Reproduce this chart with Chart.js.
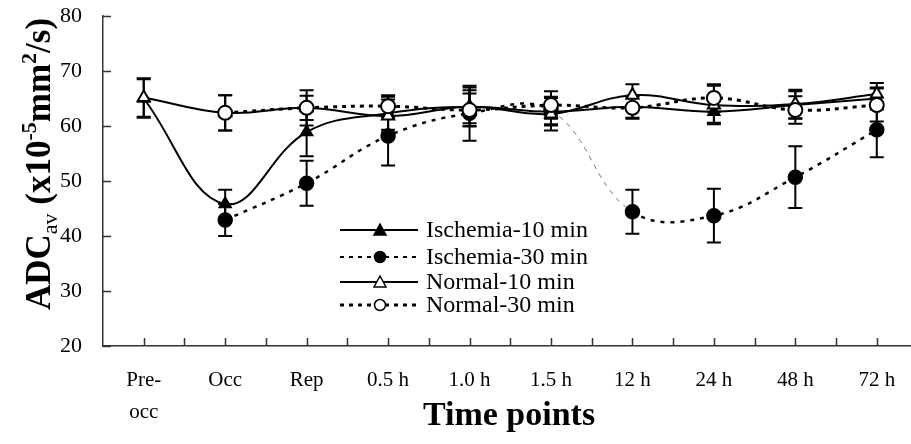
<!DOCTYPE html>
<html>
<head>
<meta charset="utf-8">
<script src="https://cdn.jsdelivr.net/npm/chart.js@4.4.0/dist/chart.umd.min.js"></script>
<style>
  html, body { margin: 0; padding: 0; background: #fff; }
</style>
</head>
<body>
<canvas id="chart" width="911" height="444"></canvas>
<script>
// time points along the x axis
const timePoints = [['Pre-', 'occ'], 'Occ', 'Rep', '0.5 h', '1.0 h', '1.5 h', '12 h', '24 h', '48 h', '72 h'];
const yTicks = [20, 30, 40, 50, 60, 70, 80];

// mean ADC values, with the +/- error
const isch10 = [65.0, 45.8, 58.9, 62.3, 63.5, 62.6, 63.5, 62.6, 63.8, 65.0];
const isch10Err = [3.5, 2.6, 4.4, 3.0, 3.5, 2.5, 2.0, 2.0, 2.5, 2.0];
const isch30 = [null, 42.9, 49.6, 58.2, 62.3, 62.8, 44.4, 43.7, 50.7, 59.3];
const isch30Err = [null, 2.9, 4.1, 5.4, 5.0, 2.5, 4.0, 4.9, 5.6, 5.0];
const norm10 = [65.2, 62.4, 63.3, 61.8, 63.5, 62.2, 65.6, 63.8, 64.0, 65.8];
const norm10Err = [3.5, 3.2, 3.2, 3.0, 3.0, 3.0, 2.0, 3.5, 2.6, 2.0];
const norm30 = [null, 62.4, 63.3, 63.6, 62.9, 63.8, 63.3, 65.1, 62.9, 63.8];
const norm30Err = [null, 3.2, 2.2, 2.0, 3.0, 2.5, 2.0, 2.5, 2.5, 3.0];

const serif = "'Liberation Serif', 'Times New Roman', serif";

function toPoints(arr) {
    return arr.map((v, i) => ({ x: i, y: v }));
}

const errorsByDataset = [isch10Err, isch30Err, norm10Err, norm30Err];

// error bars, drawn under the markers
const errorBars = {
    id: 'errorBars',
    beforeDatasetsDraw(chart) {
        const ctx = chart.ctx;
        const xs = chart.scales.x, ys = chart.scales.y;
        ctx.save();
        ctx.strokeStyle = '#000';
        ctx.lineWidth = 2;
        chart.data.datasets.forEach((ds, d) => {
            const errs = errorsByDataset[d];
            ds.data.forEach((p, i) => {
                if (p.y == null || errs[i] == null) return;
                const px = xs.getPixelForValue(p.x);
                const top = ys.getPixelForValue(p.y + errs[i]);
                const bot = ys.getPixelForValue(p.y - errs[i]);
                ctx.beginPath();
                ctx.moveTo(px, top); ctx.lineTo(px, bot);
                ctx.moveTo(px - 7, top); ctx.lineTo(px + 7, top);
                ctx.moveTo(px - 7, bot); ctx.lineTo(px + 7, bot);
                ctx.stroke();
            });
        });
        ctx.restore();
    }
};

// tick marks pointing into the plot, like the original
const innerTicks = {
    id: 'innerTicks',
    beforeDatasetsDraw(chart) {
        const ctx = chart.ctx;
        const xs = chart.scales.x, ys = chart.scales.y;
        const area = chart.chartArea;
        ctx.save();
        ctx.strokeStyle = '#333';
        ctx.lineWidth = 1.5;
        ctx.beginPath();
        for (let v = 0; v <= timePoints.length - 1; v += 0.5) {
            const px = Math.round(xs.getPixelForValue(v)) + 0.5;
            ctx.moveTo(px, area.bottom);
            ctx.lineTo(px, area.bottom - 8);
        }
        yTicks.forEach(t => {
            const py = Math.round(ys.getPixelForValue(t)) + 0.5;
            ctx.moveTo(area.left, py);
            ctx.lineTo(area.left + 8, py);
        });
        ctx.stroke();
        ctx.restore();
    }
};

// axis titles (y title has a subscript and superscripts)
const axisTitles = {
    id: 'axisTitles',
    afterDraw(chart) {
        const ctx = chart.ctx;
        ctx.save();
        ctx.fillStyle = '#000';
        ctx.textBaseline = 'alphabetic';

        ctx.font = 'bold 34px ' + serif;
        ctx.textAlign = 'center';
        ctx.fillText('Time points', 509, 425);

        const parts = [
            { t: 'ADC', f: 'bold 35px ' + serif, dy: 0 },
            { t: 'av', f: '22px ' + serif, dy: 7 },
            { t: ' (x10', f: 'bold 35px ' + serif, dy: 0 },
            { t: '-5', f: 'bold 22px ' + serif, dy: -14 },
            { t: 'mm', f: 'bold 35px ' + serif, dy: 0 },
            { t: '2', f: 'bold 22px ' + serif, dy: -14 },
            { t: '/s)', f: 'bold 35px ' + serif, dy: 0 }
        ];
        let total = 0;
        parts.forEach(p => { ctx.font = p.f; p.w = ctx.measureText(p.t).width; total += p.w; });
        ctx.translate(50, 164);
        ctx.rotate(-Math.PI / 2);
        ctx.textAlign = 'left';
        let cx = -total / 2;
        parts.forEach(p => {
            ctx.font = p.f;
            ctx.fillText(p.t, cx, p.dy);
            cx += p.w;
        });
        ctx.restore();
    }
};

// legend box inside the plot
const legendItems = [
    { label: 'Ischemia-10 min', dash: [], width: 2, shape: 'triangle', fill: '#000' },
    { label: 'Ischemia-30 min', dash: [4, 5], width: 2, shape: 'circle', fill: '#000' },
    { label: 'Normal-10 min', dash: [], width: 2, shape: 'triangle', fill: '#fff' },
    { label: 'Normal-30 min', dash: [4, 5], width: 3, shape: 'circle', fill: '#fff' }
];

const insideLegend = {
    id: 'insideLegend',
    afterDraw(chart) {
        const ctx = chart.ctx;
        const rows = [230, 257, 282, 305];
        ctx.save();
        legendItems.forEach((it, k) => {
            const y = rows[k];
            ctx.strokeStyle = '#000';
            ctx.lineWidth = it.width;
            ctx.setLineDash(it.dash);
            ctx.beginPath();
            ctx.moveTo(340, y);
            ctx.lineTo(418, y);
            ctx.stroke();
            ctx.setLineDash([]);
            ctx.lineWidth = 1.5;
            ctx.fillStyle = it.fill;
            ctx.beginPath();
            if (it.shape === 'circle') {
                ctx.arc(380, y, 5.5, 0, Math.PI * 2);
            } else {
                ctx.moveTo(380, y - 6);
                ctx.lineTo(386, y + 5);
                ctx.lineTo(374, y + 5);
                ctx.closePath();
            }
            ctx.fill();
            ctx.stroke();
            ctx.fillStyle = '#000';
            ctx.font = '24px ' + serif;
            ctx.textAlign = 'left';
            ctx.textBaseline = 'middle';
            ctx.fillText(it.label, 426, y + 1);
        });
        ctx.restore();
    }
};

const ctx = document.getElementById('chart').getContext('2d');

new Chart(ctx, {
    type: 'line',
    data: {
        datasets: [{
            label: 'Ischemia-10 min',
            data: toPoints(isch10),
            borderColor: '#000',
            borderWidth: 2,
            tension: 0.4,
            pointStyle: 'triangle',
            pointRadius: 7,
            pointBackgroundColor: '#000',
            pointBorderColor: '#000',
            pointBorderWidth: 1.5,
            order: 3
        }, {
            label: 'Ischemia-30 min',
            data: toPoints(isch30),
            borderColor: '#000',
            borderWidth: 2.5,
            borderDash: [4, 6],
            tension: 0.4,
            pointStyle: 'circle',
            pointRadius: 7,
            pointBackgroundColor: '#000',
            pointBorderColor: '#000',
            pointBorderWidth: 1.5,
            // the 1.5 h -> 12 h stretch is a thin grey dash in the original
            segment: {
                borderColor: c => c.p0DataIndex === 5 ? '#777' : undefined,
                borderWidth: c => c.p0DataIndex === 5 ? 1 : undefined,
                borderDash: c => c.p0DataIndex === 5 ? [5, 5] : undefined
            },
            order: 2
        }, {
            label: 'Normal-10 min',
            data: toPoints(norm10),
            borderColor: '#000',
            borderWidth: 2,
            tension: 0.4,
            pointStyle: 'triangle',
            pointRadius: 7,
            pointBackgroundColor: '#fff',
            pointBorderColor: '#000',
            pointBorderWidth: 2,
            order: 1
        }, {
            label: 'Normal-30 min',
            data: toPoints(norm30),
            borderColor: '#000',
            borderWidth: 3,
            borderDash: [4, 5],
            tension: 0.4,
            pointStyle: 'circle',
            pointRadius: 7,
            pointBackgroundColor: '#fff',
            pointBorderColor: '#000',
            pointBorderWidth: 2,
            order: 0
        }]
    },
    options: {
        responsive: false,
        animation: false,
        devicePixelRatio: 1,
        layout: { autoPadding: false, padding: { top: 16, right: 0, left: 0, bottom: 0 } },
        plugins: {
            legend: { display: false },
            tooltip: { enabled: false }
        },
        scales: {
            x: {
                type: 'linear',
                min: -0.5,
                max: 9.42,
                afterFit: s => { s.height = 98; s.paddingLeft = 0; s.paddingRight = 0; },
                afterBuildTicks: s => { s.ticks = timePoints.map((_, i) => ({ value: i })); },
                grid: { display: false, drawTicks: false },
                border: { color: '#333', width: 1.5 },
                ticks: {
                    autoSkip: false,
                    maxRotation: 0,
                    padding: 19,
                    color: '#000',
                    font: { family: serif, size: 21, lineHeight: 1.5 },
                    callback: v => timePoints[v]
                }
            },
            y: {
                min: 20,
                max: 80,
                afterFit: s => { s.width = 103; s.paddingTop = 0; s.paddingBottom = 0; },
                grid: { display: false, drawTicks: false },
                border: { color: '#333', width: 1.5 },
                ticks: {
                    stepSize: 10,
                    padding: 21,
                    color: '#000',
                    font: { family: serif, size: 22 }
                }
            }
        }
    },
    plugins: [errorBars, innerTicks, axisTitles, insideLegend]
});
</script>
</body>
</html>
